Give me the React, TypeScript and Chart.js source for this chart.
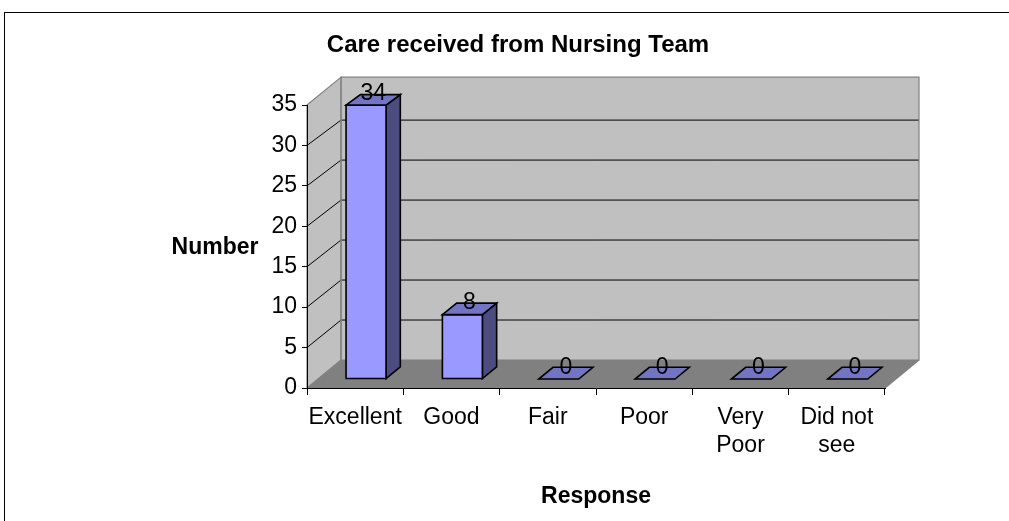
import React, { useEffect, useRef } from "react";
import { Chart, registerables } from "chart.js";

Chart.register(...registerables);

const categories: (string | string[])[] = ["Excellent", "Good", "Fair", "Poor", ["Very", "Poor"], ["Did not", "see"]];
const counts = [34, 8, 0, 0, 0, 0];
const yTicks = [0, 5, 10, 15, 20, 25, 30, 35];
const chartTitle = "Care received from Nursing Team";
const yTitle = "Number";
const xTitle = "Response";

const FONT = "'Liberation Sans', Arial, Helvetica, sans-serif";
const DX = 34;
const DY = 28;
const SHRINK = 0.011;
const F1 = 0.32;
const F2 = 0.74;

function poly(ctx: CanvasRenderingContext2D, pts: number[][], fill?: string, stroke?: string, lw = 1) {
  ctx.beginPath();
  pts.forEach((p, i) => (i === 0 ? ctx.moveTo(p[0], p[1]) : ctx.lineTo(p[0], p[1])));
  ctx.closePath();
  if (fill) {
    ctx.fillStyle = fill;
    ctx.fill();
  }
  if (stroke) {
    ctx.strokeStyle = stroke;
    ctx.lineWidth = lw;
    ctx.stroke();
  }
}

function line(ctx: CanvasRenderingContext2D, a: number[], b: number[], color: string, lw = 1) {
  ctx.beginPath();
  ctx.moveTo(a[0], a[1]);
  ctx.lineTo(b[0], b[1]);
  ctx.strokeStyle = color;
  ctx.lineWidth = lw;
  ctx.stroke();
}

function projector(chart: any) {
  const ys = chart.scales.y;
  const y0 = ys.getPixelForValue(0);
  return (x: number, y: number, f: number) => [x + DX * f, y0 - DY * f - (y0 - y) * (1 - SHRINK * f)];
}

const excel3d = {
  id: "excel3d",
  beforeDraw(chart: any) {
    const ctx: CanvasRenderingContext2D = chart.ctx;
    const { left, right } = chart.chartArea;
    const ys = chart.scales.y;
    const y0 = ys.getPixelForValue(0);
    const yTop = ys.getPixelForValue(yTicks[yTicks.length - 1]);
    const P = projector(chart);
    ctx.save();
    ctx.fillStyle = "#ffffff";
    ctx.fillRect(0, 0, chart.width, chart.height);
    ctx.strokeStyle = "#000000";
    ctx.lineWidth = 1;
    ctx.strokeRect(4.5, 12.5, 1200, 800);

    const back = [P(left, yTop - 3, 1), P(right, yTop - 3, 1), P(right, y0, 1), P(left, y0, 1)];
    const side = [[left, yTop], P(left, yTop - 3, 1), P(left, y0, 1), [left, y0]];
    const floor = [[left, y0], [right, y0], P(right, y0, 1), P(left, y0, 1)];
    poly(ctx, back, "#c0c0c0");
    poly(ctx, side, "#c0c0c0");
    poly(ctx, floor, "#808080");

    yTicks.forEach((v) => {
      if (v === 0 || v === yTicks[yTicks.length - 1]) return;
      const yv = ys.getPixelForValue(v);
      line(ctx, P(left, yv, 1), P(right, yv, 1), "#000000", 1);
      line(ctx, [left, yv], P(left, yv, 1), "#000000", 1);
    });

    poly(ctx, back, undefined, "#808080", 1.2);
    poly(ctx, side, undefined, "#808080", 1.2);
    line(ctx, [right, y0], P(right, y0, 1), "#808080", 1.2);
    ctx.restore();
  },
  beforeDatasetDraw() {
    return false;
  },
  afterDatasetsDraw(chart: any) {
    const ctx: CanvasRenderingContext2D = chart.ctx;
    const P = projector(chart);
    const meta = chart.getDatasetMeta(0);
    ctx.save();
    ctx.lineJoin = "miter";
    meta.data.forEach((bar: any, i: number) => {
      const w = bar.width;
      const xl = bar.x - w / 2;
      const xr = bar.x + w / 2;
      const yt = bar.y;
      const yb = bar.base;
      const sideFace = [P(xr, yt, F1), P(xr, yt, F2), P(xr, yb, F2), P(xr, yb, F1)];
      const topFace = [P(xl, yt, F1), P(xr, yt, F1), P(xr, yt, F2), P(xl, yt, F2)];
      const front = [P(xl, yt, F1), P(xr, yt, F1), P(xr, yb, F1), P(xl, yb, F1)];
      if (Math.abs(yb - yt) > 0.5) {
        poly(ctx, sideFace, "#4c4c80", "#000000", 1.6);
        poly(ctx, front, "#9999ff", "#000000", 1.6);
      }
      poly(ctx, topFace, "#7474c4", "#000000", 1.6);
      const mid = P(bar.x, yt, (F1 + F2) / 2);
      ctx.fillStyle = "#000000";
      ctx.font = `23px ${FONT}`;
      ctx.textAlign = "center";
      ctx.textBaseline = "middle";
      ctx.fillText(String(counts[i]), mid[0], mid[1] - 6);
    });
    ctx.restore();
  },
  afterDraw(chart: any) {
    const ctx: CanvasRenderingContext2D = chart.ctx;
    const { left, right } = chart.chartArea;
    ctx.save();
    ctx.fillStyle = "#000000";
    ctx.textAlign = "center";
    ctx.textBaseline = "middle";
    ctx.font = `bold 24px ${FONT}`;
    ctx.fillText(chartTitle, 518, 45);
    ctx.font = `bold 23px ${FONT}`;
    ctx.fillText(yTitle, 215, 248);
    ctx.fillText(xTitle, (left + right) / 2, 497);
    ctx.restore();
  },
};

export default function App() {
  const ref = useRef<HTMLCanvasElement | null>(null);
  useEffect(() => {
    if (!ref.current) return;
    const chart = new Chart(ref.current, {
      type: "bar",
      data: {
        labels: categories as any,
        datasets: [
          {
            label: "Number",
            data: counts,
            backgroundColor: "#9999ff",
            borderColor: "#000000",
            barPercentage: 0.415,
            categoryPercentage: 1,
          },
        ],
      },
      options: {
        animation: false,
        responsive: true,
        maintainAspectRatio: false,
        layout: { padding: { left: 247, right: 124, top: 105, bottom: 0 } },
        plugins: {
          legend: { display: false },
          title: { display: false },
          tooltip: { enabled: false },
        },
        scales: {
          x: {
            type: "category",
            offset: true,
            afterFit: (s: any) => {
              s.height = 133;
            },
            grid: {
              display: true,
              offset: true,
              drawOnChartArea: false,
              drawTicks: true,
              tickLength: 7,
              color: "#000000",
            },
            border: { display: true, color: "#000000", width: 1 },
            ticks: {
              color: "#000000",
              font: { family: FONT, size: 23, lineHeight: 1.22 },
              padding: 9,
              maxRotation: 0,
              minRotation: 0,
              autoSkip: false,
            },
          },
          y: {
            type: "linear",
            min: yTicks[0],
            max: yTicks[yTicks.length - 1],
            afterFit: (s: any) => {
              s.width = 60;
            },
            afterBuildTicks: (s: any) => {
              s.ticks = yTicks.map((v) => ({ value: v }));
            },
            grid: {
              display: true,
              drawOnChartArea: false,
              drawTicks: true,
              tickLength: 5,
              color: "#000000",
            },
            border: { display: true, color: "#000000", width: 1 },
            ticks: {
              color: "#000000",
              font: { family: FONT, size: 23 },
              padding: 5,
            },
          },
        },
      },
      plugins: [excel3d],
    });
    return () => chart.destroy();
  }, []);
  return (
    <div style={{ position: "fixed", left: 0, top: 0, width: 1009, height: 521, background: "#fff" }}>
      <canvas ref={ref} />
    </div>
  );
}
